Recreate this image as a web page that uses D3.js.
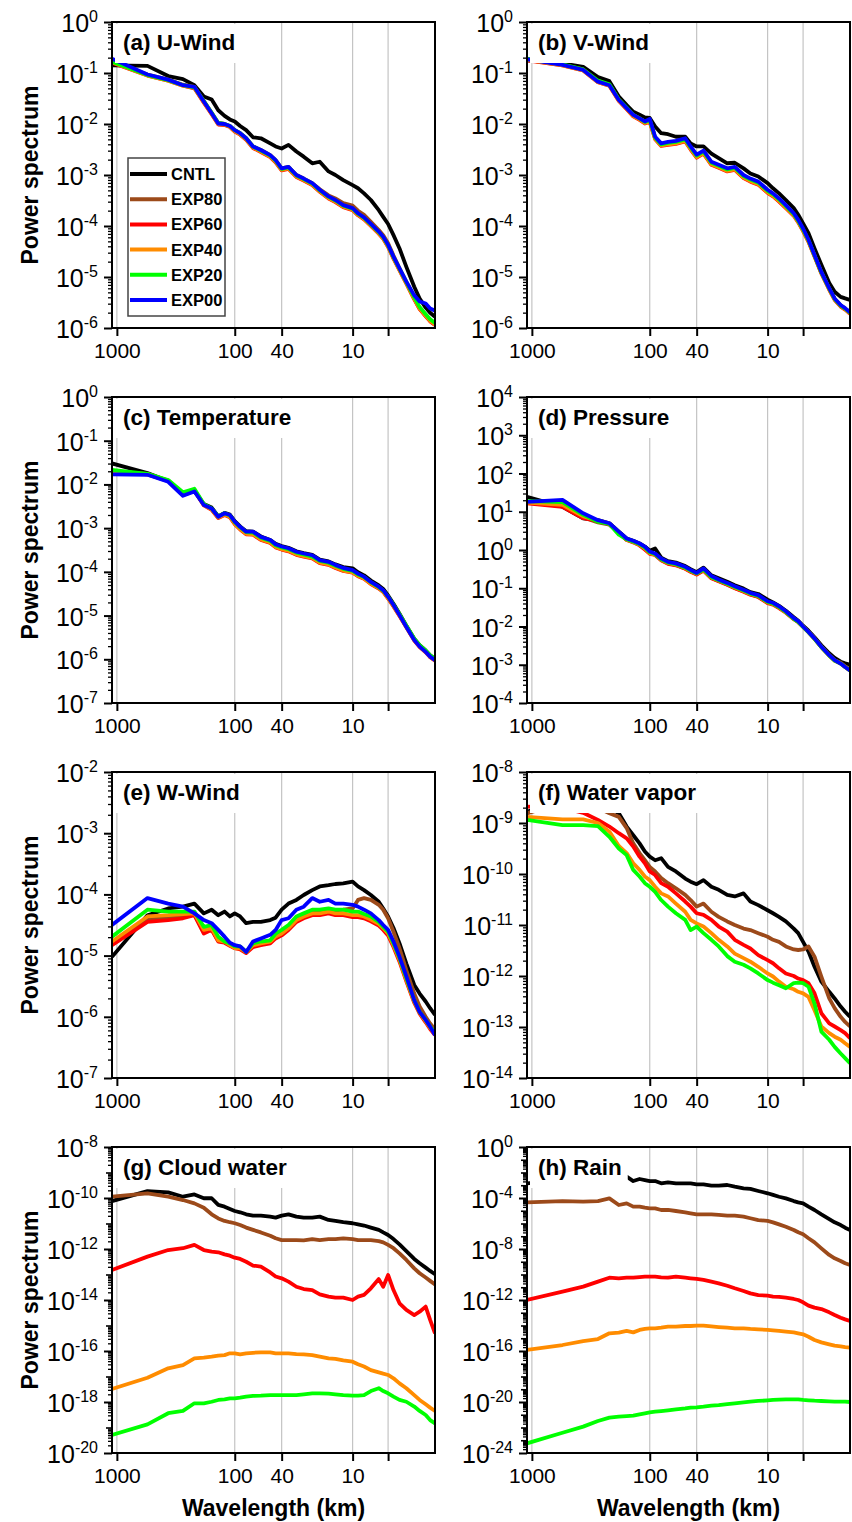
<!DOCTYPE html>
<html>
<head>
<meta charset="utf-8">
<style>
body { margin: 0; background: #fff; }
svg text { font-family: "Liberation Sans", Arial, Helvetica, sans-serif; }
</style>
</head>
<body>
<script src="https://cdn.jsdelivr.net/npm/d3@7"></script>
<script>
// wavelengths (km) shared by every spectrum
const wavelength = [1100, 550, 367, 275, 220, 183, 157, 138, 122, 110,
  100, 90, 80, 70, 60, 50, 45, 40, 35, 30,
  26, 22, 19, 16, 14, 12, 10, 9, 8, 7,
  6, 5.5, 5, 4.5, 4, 3.5, 3, 2.7, 2.4, 2.2, 2];

const experiments = ["CNTL", "EXP80", "EXP60", "EXP40", "EXP20", "EXP00"];
const colors = ["#000000", "#9c4a1a", "#ff0000", "#ff8c00", "#00ff00", "#0000ff"];
const xTicks = [1000, 100, 40, 10, 5];
const xTickLabels = ["1000", "100", "40", "10", ""];

// log10(power spectrum), one row per experiment (CNTL, EXP80, EXP60, EXP40, EXP20, EXP00)
const uWind = [
  [-0.85,-0.86,-1.06,-1.12,-1.24,-1.46,-1.52,-1.73,-1.84,-1.91,
   -1.95,-2.04,-2.12,-2.26,-2.28,-2.38,-2.44,-2.48,-2.41,-2.54,
   -2.64,-2.77,-2.74,-2.93,-3.00,-3.10,-3.20,-3.26,-3.36,-3.49,
   -3.69,-3.82,-3.96,-4.18,-4.44,-4.80,-5.19,-5.42,-5.60,-5.70,-5.78],
  [-0.78,-1.03,-1.13,-1.23,-1.27,-1.55,-1.78,-1.98,-2.00,-2.04,
   -2.12,-2.18,-2.28,-2.44,-2.51,-2.61,-2.71,-2.87,-2.84,-3.00,
   -3.07,-3.16,-3.28,-3.40,-3.46,-3.55,-3.60,-3.70,-3.78,-3.92,
   -4.08,-4.18,-4.34,-4.58,-4.83,-5.10,-5.42,-5.62,-5.76,-5.86,-5.93],
  [-0.80,-1.05,-1.15,-1.25,-1.30,-1.58,-1.81,-2.01,-2.02,-2.06,
   -2.15,-2.21,-2.31,-2.47,-2.55,-2.65,-2.75,-2.91,-2.88,-3.04,
   -3.11,-3.20,-3.33,-3.46,-3.53,-3.63,-3.69,-3.79,-3.87,-4.00,
   -4.15,-4.25,-4.41,-4.64,-4.87,-5.13,-5.44,-5.63,-5.77,-5.87,-5.94],
  [-0.79,-1.05,-1.15,-1.25,-1.29,-1.57,-1.80,-2.00,-2.01,-2.05,
   -2.14,-2.20,-2.30,-2.46,-2.54,-2.64,-2.74,-2.90,-2.87,-3.03,
   -3.10,-3.19,-3.32,-3.45,-3.52,-3.62,-3.68,-3.78,-3.86,-3.99,
   -4.14,-4.24,-4.40,-4.63,-4.86,-5.12,-5.43,-5.62,-5.76,-5.86,-5.93],
  [-0.78,-1.04,-1.14,-1.24,-1.28,-1.55,-1.78,-1.98,-2.00,-2.04,
   -2.12,-2.18,-2.28,-2.44,-2.52,-2.62,-2.72,-2.88,-2.85,-3.01,
   -3.08,-3.17,-3.30,-3.43,-3.50,-3.60,-3.66,-3.76,-3.84,-3.97,
   -4.12,-4.22,-4.38,-4.61,-4.84,-5.10,-5.40,-5.59,-5.73,-5.83,-5.90],
  [-0.72,-1.03,-1.13,-1.24,-1.27,-1.56,-1.79,-1.99,-2.00,-2.04,
   -2.12,-2.18,-2.28,-2.44,-2.51,-2.61,-2.71,-2.87,-2.84,-3.00,
   -3.07,-3.16,-3.29,-3.42,-3.49,-3.59,-3.65,-3.75,-3.83,-3.96,
   -4.11,-4.21,-4.37,-4.60,-4.83,-5.09,-5.36,-5.48,-5.52,-5.62,-5.66]
];

const vWind = [
  [-0.75,-0.81,-0.88,-1.08,-1.16,-1.46,-1.63,-1.76,-1.82,-1.87,
   -1.88,-2.05,-2.18,-2.20,-2.25,-2.25,-2.38,-2.44,-2.44,-2.58,
   -2.67,-2.77,-2.76,-2.87,-2.97,-3.03,-3.16,-3.26,-3.36,-3.49,
   -3.65,-3.78,-3.95,-4.14,-4.44,-4.76,-5.12,-5.29,-5.39,-5.42,-5.45],
  [-0.74,-0.84,-0.93,-1.16,-1.23,-1.52,-1.69,-1.82,-1.89,-1.96,
   -1.93,-2.27,-2.40,-2.38,-2.36,-2.31,-2.47,-2.63,-2.55,-2.77,
   -2.83,-2.90,-2.87,-3.03,-3.10,-3.16,-3.32,-3.39,-3.49,-3.62,
   -3.77,-3.90,-4.07,-4.29,-4.58,-4.91,-5.23,-5.43,-5.56,-5.62,-5.70],
  [-0.75,-0.85,-0.95,-1.18,-1.25,-1.55,-1.71,-1.85,-1.92,-1.99,
   -1.96,-2.30,-2.43,-2.41,-2.39,-2.34,-2.50,-2.66,-2.58,-2.80,
   -2.86,-2.93,-2.90,-3.06,-3.13,-3.19,-3.35,-3.42,-3.52,-3.65,
   -3.80,-3.93,-4.10,-4.31,-4.60,-4.93,-5.25,-5.45,-5.58,-5.64,-5.72],
  [-0.74,-0.85,-0.95,-1.18,-1.25,-1.54,-1.70,-1.84,-1.91,-1.98,
   -1.95,-2.29,-2.42,-2.40,-2.38,-2.33,-2.49,-2.65,-2.57,-2.79,
   -2.85,-2.92,-2.89,-3.05,-3.12,-3.18,-3.34,-3.41,-3.51,-3.64,
   -3.79,-3.92,-4.09,-4.30,-4.59,-4.92,-5.24,-5.44,-5.57,-5.63,-5.71],
  [-0.72,-0.83,-0.93,-1.15,-1.22,-1.52,-1.68,-1.82,-1.89,-1.96,
   -1.92,-2.27,-2.40,-2.37,-2.35,-2.30,-2.46,-2.62,-2.54,-2.76,
   -2.82,-2.89,-2.86,-3.02,-3.09,-3.15,-3.31,-3.38,-3.48,-3.61,
   -3.77,-3.90,-4.07,-4.28,-4.58,-4.91,-5.23,-5.43,-5.56,-5.62,-5.70],
  [-0.73,-0.84,-0.94,-1.17,-1.24,-1.53,-1.69,-1.82,-1.89,-1.95,
   -1.90,-2.25,-2.38,-2.35,-2.33,-2.28,-2.44,-2.60,-2.52,-2.74,
   -2.80,-2.87,-2.84,-3.00,-3.07,-3.13,-3.29,-3.36,-3.46,-3.59,
   -3.75,-3.88,-4.05,-4.27,-4.57,-4.90,-5.22,-5.42,-5.55,-5.61,-5.69]
];

const temperature = [
  [-1.52,-1.74,-1.92,-2.24,-2.15,-2.45,-2.53,-2.73,-2.65,-2.69,
   -2.84,-2.96,-3.07,-3.08,-3.19,-3.27,-3.36,-3.41,-3.45,-3.53,
   -3.57,-3.61,-3.72,-3.76,-3.83,-3.89,-3.92,-4.01,-4.08,-4.20,
   -4.31,-4.39,-4.54,-4.73,-4.96,-5.23,-5.53,-5.68,-5.80,-5.91,-5.99],
  [-1.70,-1.76,-1.91,-2.21,-2.13,-2.46,-2.56,-2.75,-2.68,-2.73,
   -2.89,-3.01,-3.12,-3.13,-3.25,-3.32,-3.42,-3.47,-3.51,-3.59,
   -3.63,-3.67,-3.78,-3.82,-3.89,-3.96,-4.00,-4.08,-4.14,-4.26,
   -4.36,-4.44,-4.59,-4.77,-4.99,-5.25,-5.55,-5.70,-5.82,-5.93,-6.01],
  [-1.71,-1.77,-1.92,-2.22,-2.14,-2.48,-2.58,-2.77,-2.70,-2.75,
   -2.91,-3.03,-3.14,-3.15,-3.27,-3.34,-3.44,-3.49,-3.53,-3.61,
   -3.65,-3.69,-3.80,-3.84,-3.91,-3.98,-4.02,-4.10,-4.16,-4.28,
   -4.38,-4.46,-4.61,-4.79,-5.01,-5.27,-5.57,-5.72,-5.84,-5.95,-6.03],
  [-1.70,-1.77,-1.92,-2.21,-2.13,-2.47,-2.57,-2.76,-2.69,-2.74,
   -2.90,-3.02,-3.13,-3.14,-3.26,-3.33,-3.43,-3.48,-3.52,-3.60,
   -3.64,-3.68,-3.79,-3.83,-3.90,-3.97,-4.01,-4.09,-4.15,-4.27,
   -4.37,-4.45,-4.60,-4.78,-5.00,-5.26,-5.56,-5.71,-5.83,-5.94,-6.02],
  [-1.67,-1.76,-1.90,-2.18,-2.10,-2.45,-2.55,-2.73,-2.66,-2.71,
   -2.86,-2.98,-3.09,-3.10,-3.22,-3.29,-3.39,-3.44,-3.48,-3.56,
   -3.60,-3.65,-3.75,-3.79,-3.86,-3.93,-3.98,-4.06,-4.12,-4.24,
   -4.35,-4.43,-4.57,-4.75,-4.97,-5.23,-5.53,-5.68,-5.80,-5.91,-5.98],
  [-1.77,-1.78,-1.94,-2.26,-2.16,-2.47,-2.55,-2.74,-2.66,-2.70,
   -2.85,-2.97,-3.08,-3.08,-3.20,-3.27,-3.37,-3.42,-3.46,-3.54,
   -3.58,-3.62,-3.73,-3.77,-3.84,-3.91,-3.96,-4.04,-4.11,-4.23,
   -4.34,-4.42,-4.57,-4.76,-4.99,-5.26,-5.56,-5.71,-5.83,-5.94,-6.02]
];

const pressure = [
  [1.39,1.13,0.83,0.78,0.70,0.48,0.30,0.24,0.17,0.09,
   -0.02,0.04,-0.20,-0.29,-0.33,-0.42,-0.50,-0.58,-0.46,-0.66,
   -0.74,-0.83,-0.92,-1.01,-1.10,-1.15,-1.30,-1.37,-1.46,-1.59,
   -1.76,-1.85,-1.98,-2.11,-2.28,-2.49,-2.70,-2.82,-2.92,-2.96,-3.00],
  [1.24,1.15,0.85,0.72,0.66,0.46,0.27,0.21,0.14,0.03,
   -0.08,-0.12,-0.26,-0.35,-0.39,-0.48,-0.56,-0.63,-0.53,-0.73,
   -0.81,-0.90,-0.99,-1.08,-1.16,-1.22,-1.37,-1.41,-1.50,-1.62,
   -1.79,-1.87,-2.00,-2.14,-2.31,-2.53,-2.75,-2.88,-2.95,-3.04,-3.12],
  [1.22,1.13,0.83,0.76,0.68,0.45,0.26,0.20,0.12,0.01,
   -0.10,-0.13,-0.27,-0.36,-0.40,-0.49,-0.57,-0.64,-0.54,-0.74,
   -0.82,-0.91,-1.00,-1.09,-1.17,-1.23,-1.39,-1.43,-1.52,-1.64,
   -1.81,-1.89,-2.01,-2.15,-2.32,-2.54,-2.76,-2.89,-2.97,-3.06,-3.15],
  [1.24,1.18,0.88,0.77,0.69,0.46,0.27,0.21,0.14,0.04,
   -0.08,-0.12,-0.25,-0.34,-0.38,-0.47,-0.55,-0.62,-0.52,-0.72,
   -0.80,-0.89,-0.98,-1.07,-1.15,-1.21,-1.37,-1.41,-1.50,-1.63,
   -1.80,-1.88,-2.01,-2.15,-2.32,-2.54,-2.76,-2.89,-2.97,-3.06,-3.15],
  [1.28,1.25,0.92,0.74,0.68,0.40,0.28,0.22,0.15,0.06,
   -0.06,-0.11,-0.24,-0.33,-0.37,-0.46,-0.54,-0.61,-0.51,-0.71,
   -0.79,-0.88,-0.97,-1.06,-1.14,-1.20,-1.36,-1.40,-1.49,-1.62,
   -1.80,-1.88,-2.01,-2.15,-2.32,-2.54,-2.76,-2.89,-2.97,-3.06,-3.15],
  [1.26,1.31,0.96,0.78,0.70,0.48,0.30,0.24,0.17,0.09,
   -0.04,-0.09,-0.22,-0.31,-0.35,-0.44,-0.52,-0.60,-0.48,-0.68,
   -0.77,-0.86,-0.95,-1.04,-1.12,-1.18,-1.34,-1.38,-1.47,-1.60,
   -1.78,-1.86,-2.00,-2.14,-2.31,-2.53,-2.75,-2.88,-2.97,-3.06,-3.15]
];

const wWind = [
  [-5.02,-4.34,-4.23,-4.20,-4.15,-4.31,-4.25,-4.34,-4.28,-4.36,
   -4.31,-4.36,-4.47,-4.45,-4.45,-4.42,-4.38,-4.25,-4.15,-4.09,
   -4.01,-3.93,-3.87,-3.85,-3.83,-3.82,-3.79,-3.87,-3.93,-4.01,
   -4.12,-4.23,-4.36,-4.55,-4.80,-5.13,-5.48,-5.62,-5.75,-5.86,-5.97],
  [-4.80,-4.41,-4.38,-4.37,-4.33,-4.61,-4.57,-4.76,-4.78,-4.83,
   -4.87,-4.86,-4.94,-4.83,-4.79,-4.76,-4.67,-4.62,-4.53,-4.39,
   -4.33,-4.28,-4.28,-4.25,-4.26,-4.25,-4.23,-4.09,-4.06,-4.09,
   -4.17,-4.25,-4.39,-4.61,-4.88,-5.24,-5.62,-5.83,-6.00,-6.11,-6.21],
  [-4.83,-4.45,-4.42,-4.39,-4.34,-4.64,-4.58,-4.77,-4.79,-4.84,
   -4.88,-4.90,-4.96,-4.86,-4.83,-4.80,-4.72,-4.67,-4.58,-4.45,
   -4.39,-4.34,-4.34,-4.31,-4.34,-4.34,-4.37,-4.37,-4.39,-4.44,
   -4.51,-4.58,-4.67,-4.86,-5.10,-5.42,-5.77,-5.95,-6.09,-6.20,-6.30],
  [-4.77,-4.36,-4.34,-4.32,-4.31,-4.58,-4.55,-4.75,-4.77,-4.83,
   -4.88,-4.88,-4.94,-4.83,-4.80,-4.77,-4.69,-4.64,-4.55,-4.42,
   -4.36,-4.31,-4.31,-4.28,-4.31,-4.31,-4.34,-4.34,-4.36,-4.41,
   -4.48,-4.55,-4.64,-4.83,-5.07,-5.40,-5.75,-5.93,-6.07,-6.18,-6.28],
  [-4.69,-4.25,-4.28,-4.28,-4.28,-4.53,-4.50,-4.69,-4.77,-4.80,
   -4.85,-4.85,-4.94,-4.80,-4.77,-4.75,-4.64,-4.58,-4.50,-4.36,
   -4.31,-4.25,-4.25,-4.23,-4.25,-4.25,-4.28,-4.28,-4.32,-4.36,
   -4.45,-4.53,-4.61,-4.80,-5.04,-5.37,-5.73,-5.92,-6.05,-6.16,-6.27],
  [-4.50,-4.06,-4.15,-4.20,-4.31,-4.42,-4.47,-4.58,-4.69,-4.79,
   -4.83,-4.85,-4.94,-4.77,-4.72,-4.66,-4.58,-4.42,-4.39,-4.25,
   -4.20,-4.06,-4.12,-4.09,-4.15,-4.15,-4.17,-4.20,-4.25,-4.31,
   -4.42,-4.50,-4.58,-4.77,-5.02,-5.34,-5.73,-5.92,-6.05,-6.16,-6.30]
];

// EXP00 has no water vapor, cloud or rain spectrum drawn
const waterVapor = [
  [-8.78,-8.55,-8.50,-8.60,-8.70,-8.81,-9.07,-9.24,-9.40,-9.56,
   -9.66,-9.73,-9.69,-9.86,-9.95,-10.09,-10.15,-10.20,-10.12,-10.25,
   -10.31,-10.41,-10.44,-10.38,-10.54,-10.61,-10.71,-10.77,-10.84,-10.93,
   -11.07,-11.16,-11.33,-11.52,-11.82,-12.11,-12.31,-12.44,-12.60,-12.70,-12.80],
  [-8.81,-8.60,-8.60,-8.70,-8.81,-8.88,-9.10,-9.40,-9.59,-9.73,
   -9.86,-9.95,-10.08,-10.18,-10.28,-10.41,-10.51,-10.64,-10.58,-10.74,
   -10.84,-10.93,-11.00,-11.07,-11.10,-11.16,-11.23,-11.29,-11.33,-11.42,
   -11.48,-11.49,-11.48,-11.42,-11.62,-12.01,-12.44,-12.63,-12.80,-12.90,-12.99],
  [-8.68,-8.70,-8.80,-8.94,-9.07,-9.20,-9.30,-9.46,-9.66,-9.79,
   -9.95,-10.02,-10.18,-10.25,-10.38,-10.54,-10.64,-10.77,-10.80,-10.90,
   -11.03,-11.13,-11.29,-11.39,-11.46,-11.59,-11.69,-11.75,-11.85,-11.95,
   -12.00,-12.05,-12.08,-12.14,-12.34,-12.73,-12.93,-12.99,-13.06,-13.12,-13.22],
  [-8.88,-8.93,-8.93,-9.00,-9.17,-9.45,-9.59,-9.79,-9.92,-10.05,
   -10.12,-10.25,-10.38,-10.44,-10.58,-10.74,-10.90,-10.97,-11.03,-11.16,
   -11.29,-11.42,-11.56,-11.65,-11.72,-11.82,-11.95,-12.01,-12.11,-12.21,
   -12.26,-12.31,-12.34,-12.41,-12.67,-12.99,-13.12,-13.19,-13.25,-13.32,-13.39],
  [-8.94,-9.04,-9.04,-9.06,-9.27,-9.50,-9.63,-9.92,-10.05,-10.18,
   -10.25,-10.35,-10.51,-10.64,-10.77,-10.90,-11.10,-11.03,-11.16,-11.29,
   -11.42,-11.61,-11.72,-11.78,-11.85,-11.95,-12.08,-12.13,-12.18,-12.24,
   -12.14,-12.13,-12.14,-12.21,-12.54,-13.09,-13.25,-13.39,-13.52,-13.61,-13.71],
  null
];

const cloudWater = [
  [-10.12,-9.73,-9.78,-9.95,-9.86,-10.01,-10.01,-10.27,-10.34,-10.43,
   -10.51,-10.56,-10.64,-10.69,-10.69,-10.73,-10.77,-10.69,-10.64,-10.73,
   -10.77,-10.77,-10.73,-10.86,-10.90,-10.95,-10.99,-11.03,-11.08,-11.16,
   -11.25,-11.35,-11.45,-11.61,-11.82,-12.08,-12.39,-12.56,-12.73,-12.86,-12.99],
  [-9.95,-9.82,-9.95,-10.08,-10.21,-10.38,-10.64,-10.80,-10.90,-10.95,
   -10.99,-11.06,-11.16,-11.25,-11.35,-11.48,-11.58,-11.65,-11.65,-11.65,
   -11.66,-11.61,-11.65,-11.61,-11.61,-11.58,-11.61,-11.65,-11.65,-11.65,
   -11.69,-11.74,-11.84,-11.97,-12.17,-12.43,-12.76,-12.95,-13.12,-13.25,-13.39],
  [-12.82,-12.30,-12.04,-11.97,-11.84,-12.04,-12.10,-12.13,-12.21,-12.26,
   -12.34,-12.39,-12.50,-12.65,-12.69,-12.92,-13.08,-13.15,-13.28,-13.48,
   -13.57,-13.61,-13.78,-13.87,-13.91,-13.91,-14.00,-13.87,-13.80,-13.54,
   -13.18,-13.48,-13.02,-13.61,-14.13,-14.39,-14.59,-14.46,-14.26,-14.78,-15.31],
  [-17.49,-17.05,-16.68,-16.55,-16.29,-16.26,-16.22,-16.18,-16.16,-16.09,
   -16.09,-16.13,-16.09,-16.07,-16.05,-16.05,-16.09,-16.09,-16.09,-16.12,
   -16.13,-16.16,-16.22,-16.29,-16.31,-16.37,-16.42,-16.52,-16.61,-16.75,
   -16.84,-16.89,-16.94,-17.07,-17.27,-17.46,-17.73,-17.92,-18.09,-18.22,-18.35],
  [-19.29,-18.88,-18.44,-18.35,-18.05,-18.05,-17.99,-17.92,-17.90,-17.86,
   -17.86,-17.83,-17.79,-17.76,-17.75,-17.73,-17.73,-17.73,-17.73,-17.73,
   -17.70,-17.66,-17.66,-17.67,-17.70,-17.73,-17.75,-17.75,-17.73,-17.57,
   -17.46,-17.57,-17.66,-17.79,-17.92,-17.99,-18.18,-18.35,-18.51,-18.71,-18.84],
  null
];

const rain = [
  [-2.85,-2.60,-2.50,-2.50,-2.45,-2.40,-2.33,-2.67,-2.51,-2.59,
   -2.67,-2.67,-2.85,-2.77,-2.85,-2.85,-2.85,-2.93,-2.93,-3.03,
   -3.03,-2.98,-3.11,-3.24,-3.29,-3.45,-3.63,-3.76,-3.90,-4.03,
   -4.24,-4.34,-4.42,-4.68,-4.94,-5.28,-5.65,-5.91,-6.12,-6.33,-6.51],
  [-4.34,-4.24,-4.29,-4.24,-4.03,-4.55,-4.42,-4.68,-4.68,-4.76,
   -4.81,-4.81,-4.94,-4.94,-5.02,-5.12,-5.20,-5.28,-5.28,-5.28,
   -5.33,-5.39,-5.39,-5.46,-5.59,-5.73,-5.80,-5.91,-6.07,-6.25,
   -6.51,-6.69,-6.85,-7.16,-7.48,-7.95,-8.47,-8.73,-8.94,-9.12,-9.25],
  [-12.00,-11.35,-10.95,-10.56,-10.25,-10.30,-10.25,-10.25,-10.20,-10.17,
   -10.17,-10.17,-10.22,-10.25,-10.17,-10.25,-10.30,-10.35,-10.43,-10.56,
   -10.69,-10.88,-11.08,-11.29,-11.48,-11.61,-11.66,-11.74,-11.76,-11.82,
   -11.92,-12.00,-12.18,-12.44,-12.60,-12.71,-12.97,-13.18,-13.39,-13.52,-13.65],
  [-15.92,-15.53,-15.22,-15.06,-14.61,-14.56,-14.43,-14.54,-14.35,-14.27,
   -14.22,-14.22,-14.17,-14.09,-14.09,-14.04,-14.04,-14.01,-14.01,-14.07,
   -14.12,-14.17,-14.22,-14.22,-14.27,-14.30,-14.35,-14.38,-14.43,-14.48,
   -14.54,-14.61,-14.69,-14.88,-15.14,-15.32,-15.48,-15.58,-15.63,-15.69,-15.74],
  [-23.24,-22.41,-21.93,-21.49,-21.23,-21.15,-21.10,-21.07,-20.97,-20.89,
   -20.81,-20.76,-20.71,-20.65,-20.58,-20.50,-20.44,-20.42,-20.37,-20.29,
   -20.24,-20.16,-20.10,-20.03,-19.97,-19.92,-19.87,-19.84,-19.82,-19.79,
   -19.79,-19.79,-19.84,-19.87,-19.90,-19.92,-19.95,-19.97,-19.97,-19.97,-20.00],
  null
];

const panels = [
  { title: "(a) U-Wind", data: uWind, yMax: 0, yMin: -6, step: 1 },
  { title: "(b) V-Wind", data: vWind, yMax: 0, yMin: -6, step: 1 },
  { title: "(c) Temperature", data: temperature, yMax: 0, yMin: -7, step: 1 },
  { title: "(d) Pressure", data: pressure, yMax: 4, yMin: -4, step: 1 },
  { title: "(e) W-Wind", data: wWind, yMax: -2, yMin: -7, step: 1 },
  { title: "(f) Water vapor", data: waterVapor, yMax: -8, yMin: -14, step: 1 },
  { title: "(g) Cloud water", data: cloudWater, yMax: -8, yMin: -20, step: 2 },
  { title: "(h) Rain", data: rain, yMax: 0, yMin: -24, step: 4 }
];

const W = 852, H = 1522;
const plotW = 323, plotH = 306;
const colX = [112, 527];
const rowY = [22, 397, 772, 1147];
const FONT = '"Liberation Sans", Arial, Helvetica, sans-serif';

const svg = d3.select("body").append("svg")
    .attr("width", W)
    .attr("height", H);

const x = d3.scaleLog().domain([1100, 2]).range([0, plotW]);

panels.forEach(function(p, k) {
  const col = k % 2, row = Math.floor(k / 2);
  const x0 = colX[col], y0 = rowY[row];
  const g = svg.append("g").attr("transform", "translate(" + x0 + "," + y0 + ")");
  const y = d3.scaleLog().domain([Math.pow(10, p.yMin), Math.pow(10, p.yMax)]).range([plotH, 0]);

  g.append("clipPath").attr("id", "clip" + k)
    .append("rect").attr("width", plotW).attr("height", plotH);

  // grey vertical lines at the labelled wavelengths
  g.selectAll(".grid")
    .data(xTicks)
    .enter().append("line")
      .attr("x1", d => x(d)).attr("x2", d => x(d))
      .attr("y1", 0).attr("y2", plotH)
      .style("stroke", "#c4c4c4")
      .style("stroke-width", 1.2);

  const line = d3.line()
      .x(d => x(d[0]))
      .y(d => y(d[1]));

  p.data.forEach(function(s, i) {
    if (!s) return;
    g.append("path")
      .datum(s.map((v, j) => [wavelength[j], Math.pow(10, v)]))
      .attr("clip-path", "url(#clip" + k + ")")
      .attr("d", line)
      .style("fill", "none")
      .style("stroke", colors[i])
      .style("stroke-width", 3.8)
      .style("stroke-linejoin", "round");
  });

  // title with white backing box
  const box = g.append("rect").attr("x", 3).attr("y", 2).attr("height", 39).style("fill", "#fff");
  const t = g.append("text")
      .attr("x", 11).attr("y", 28)
      .style("font-size", "22.5px")
      .style("font-weight", "bold")
      .text(p.title);
  box.attr("width", 8 + t.node().getComputedTextLength() + 6);

  // frame
  g.append("rect")
    .attr("width", plotW).attr("height", plotH)
    .style("fill", "none").style("stroke", "#000").style("stroke-width", 2);

  // y ticks
  const decades = d3.range(p.yMin, p.yMax + 1);
  const labelled = decades.filter(n => (p.yMax - n) % p.step === 0);
  const plain = decades.filter(n => (p.yMax - n) % p.step !== 0);
  const minors = [];
  for (let n = p.yMin; n < p.yMax; n++) {
    for (let m = 2; m <= 9; m++) minors.push(m * Math.pow(10, n));
  }

  const yMinor = g.append("g")
      .call(d3.axisLeft(y).tickValues(minors).tickSize(4).tickFormat(""));
  yMinor.select(".domain").remove();
  yMinor.selectAll("line").style("stroke-width", 1.3);

  if (plain.length) {
    const yMid = g.append("g")
        .call(d3.axisLeft(y).tickValues(plain.map(n => Math.pow(10, n))).tickSize(6).tickFormat(""));
    yMid.select(".domain").remove();
    yMid.selectAll("line").style("stroke-width", 1.6);
  }

  const yMajor = g.append("g")
      .call(d3.axisLeft(y).tickValues(labelled.map(n => Math.pow(10, n))).tickSize(8).tickFormat(""));
  yMajor.select(".domain").remove();
  yMajor.selectAll("line").style("stroke-width", 2);

  labelled.forEach(function(n) {
    const lab = g.append("text")
        .attr("x", -14)
        .attr("y", y(Math.pow(10, n)) + 10)
        .attr("text-anchor", "end")
        .style("fill", "#000");
    lab.append("tspan").style("font-size", "25px").text("10");
    lab.append("tspan").style("font-size", "16px").attr("dy", -10).text(String(n));
  });

  // x axis
  const xa = g.append("g")
      .attr("transform", "translate(0," + plotH + ")")
      .call(d3.axisBottom(x).tickValues(xTicks).tickSize(8).tickPadding(7)
        .tickFormat((d, i) => xTickLabels[i]));
  xa.select(".domain").remove();
  xa.attr("font-family", FONT).attr("font-size", 21);
  xa.selectAll("line").style("stroke-width", 2);
  xa.selectAll("text").style("fill", "#000");

  if (col === 0) {
    svg.append("text")
      .attr("transform", "translate(38," + (y0 + plotH / 2) + ") rotate(-90)")
      .attr("text-anchor", "middle")
      .style("font-size", "23px")
      .style("font-weight", "bold")
      .text("Power spectrum");
  }
  if (row === 3) {
    svg.append("text")
      .attr("x", x0 + plotW / 2).attr("y", 1516)
      .attr("text-anchor", "middle")
      .style("font-size", "23px")
      .style("font-weight", "bold")
      .text("Wavelength (km)");
  }

  if (k === 0) {
    const lg = g.append("g").attr("transform", "translate(16,136)");
    lg.append("rect")
      .attr("width", 97).attr("height", 158)
      .style("fill", "#fff").style("stroke", "#444").style("stroke-width", 1.5);
    experiments.forEach(function(name, i) {
      const yy = 16 + i * 25.2;
      lg.append("line")
        .attr("x1", 2).attr("x2", 39).attr("y1", yy).attr("y2", yy)
        .style("stroke", colors[i]).style("stroke-width", 4);
      lg.append("text")
        .attr("x", 43).attr("y", yy + 6)
        .style("font-size", "16.5px").style("font-weight", "bold")
        .text(name);
    });
  }
});
</script>
</body>
</html>
